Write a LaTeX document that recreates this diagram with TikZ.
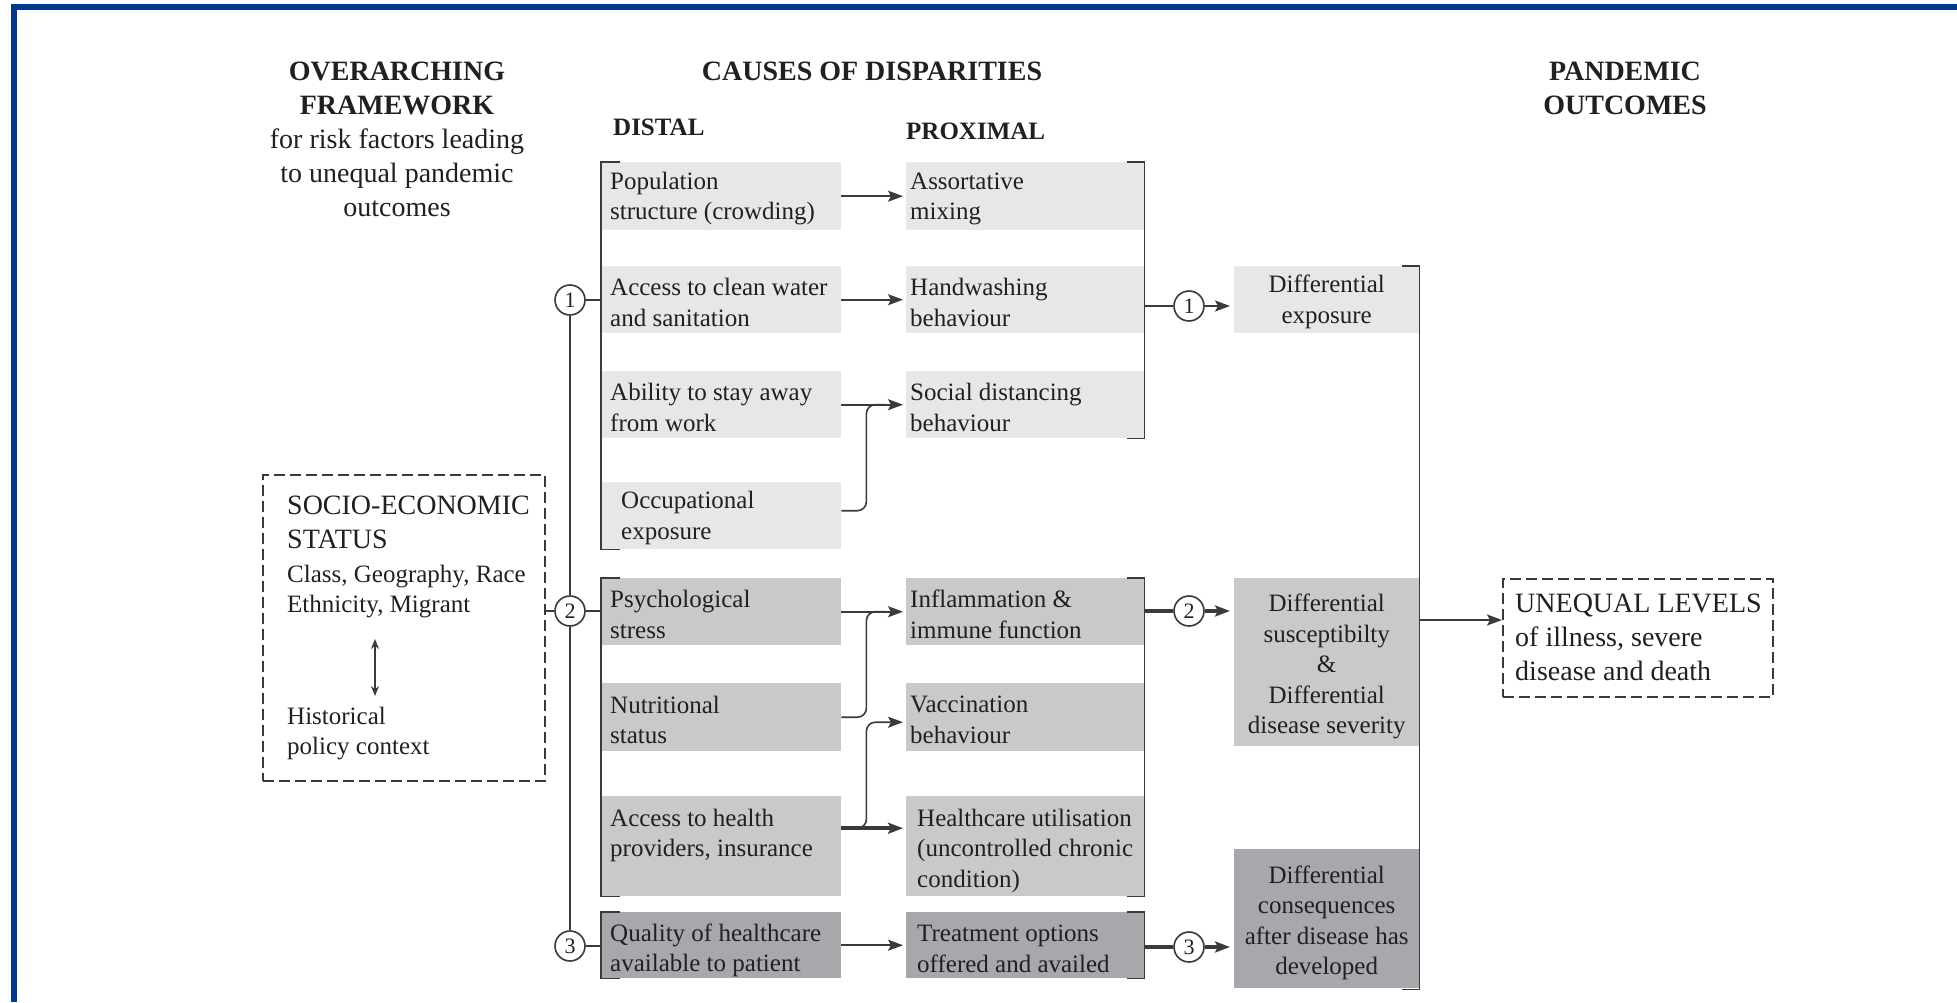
\documentclass[tikz,border=0pt]{standalone}
\usepackage{fontspec}
\setmainfont{Liberation Serif}
\usetikzlibrary{arrows.meta,calc}

\definecolor{frameblue}{HTML}{003893}
\definecolor{ink}{HTML}{231F20}
\definecolor{rulec}{HTML}{3A3A3A}
\definecolor{tierA}{HTML}{E6E7E8}
\definecolor{tierB}{HTML}{C8C9CB}
\definecolor{tierC}{HTML}{A6A8AB}

\newcommand{\bodysize}{\fontsize{25}{30.5}\selectfont}
\newcommand{\headsize}{\fontsize{28}{34}\selectfont}
\newcommand{\numsize}{\fontsize{22}{22}\selectfont}

\tikzset{
  ln/.style={draw=rulec, line width=1.6pt},
  mid/.style={draw=rulec, line width=2.8pt},
  heavy/.style={draw=rulec, line width=4pt},
  tip/.style={-{Stealth[length=15pt,width=11pt,inset=3pt]}},
  cell/.style={anchor=north west, inner sep=0pt, draw=none},
  txt/.style={font=\bodysize, text=ink, align=left, inner sep=0pt, anchor=west, yshift=-2.5pt},
  ctxt/.style={font=\bodysize, text=ink, align=center, inner sep=0pt},
  head/.style={font=\headsize\bfseries, text=ink, align=center, inner sep=0pt},
  colhead/.style={font=\bodysize\bfseries, text=ink, inner sep=0pt, anchor=west},
  num/.style={circle, draw=rulec, line width=1.6pt, fill=white, minimum size=30pt,
              inner sep=0pt, font=\numsize, text=ink},
  dashbox/.style={draw=rulec, line width=1.6pt, dash pattern=on 11pt off 5pt,
                  anchor=north west, inner sep=0pt},
}

\begin{document}
\begin{tikzpicture}[x=1pt,y=-1pt]
\useasboundingbox (0,0) rectangle (1957,1002);

% page frame
\fill[frameblue] (11,4) rectangle (1957,10);
\fill[frameblue] (11,4) rectangle (17,1002);

% column headings
\node[ctxt, font=\headsize] (fw) at (397,139)
  {\textbf{OVERARCHING}\\\textbf{FRAMEWORK}\\for risk factors leading\\to unequal pandemic\\outcomes};
\node[head] (causes) at (872,71) {CAUSES OF DISPARITIES};
\node[colhead] (distal) at (613,127) {DISTAL};
\node[colhead] (proximal) at (906,131) {PROXIMAL};
\node[head] (pand) at (1625,88) {PANDEMIC\\OUTCOMES};

% socio-economic status
\node[dashbox, minimum width=282pt, minimum height=306pt] (ses) at (262,474) {};
\node[txt, font=\headsize] (sest) at (287,520) {SOCIO-ECONOMIC\\STATUS};
\node[txt] (sesa) at (287,589) {Class, Geography, Race\\Ethnicity, Migrant};
\node[txt] (sesb) at (287,731) {Historical\\policy context};
\coordinate (ua) at (375,639);
\coordinate (ub) at (375,696);
\draw[ln, {Stealth[length=10pt,width=8pt]}-{Stealth[length=10pt,width=8pt]}] (ua) -- (ub);

% distal causes
\node[cell, fill=tierA, minimum width=240pt, minimum height=68pt] (d1) at (601,162) {};
\node[cell, fill=tierA, minimum width=240pt, minimum height=67pt] (d2) at (601,266) {};
\node[cell, fill=tierA, minimum width=240pt, minimum height=67pt] (d3) at (601,371) {};
\node[cell, fill=tierA, minimum width=240pt, minimum height=67pt] (d4) at (601,482) {};
\node[cell, fill=tierB, minimum width=240pt, minimum height=67pt] (d5) at (601,578) {};
\node[cell, fill=tierB, minimum width=240pt, minimum height=68pt] (d6) at (601,683) {};
\node[cell, fill=tierB, minimum width=240pt, minimum height=100pt] (d7) at (601,796) {};
\node[cell, fill=tierC, minimum width=240pt, minimum height=66pt] (d8) at (601,912) {};

\node[txt] (d1t) at ($(d1.west)+(9,0)$) {Population\\structure (crowding)};
\node[txt] (d2t) at ($(d2.west)+(9,0)$) {Access to clean water\\and sanitation};
\node[txt] (d3t) at ($(d3.west)+(9,0)$) {Ability to stay away\\from work};
\node[txt] (d4t) at ($(d4.west)+(20,0)$) {Occupational\\exposure};
\node[txt] (d5t) at ($(d5.west)+(9,0)$) {Psychological\\stress};
\node[txt] (d6t) at ($(d6.west)+(9,0)$) {Nutritional\\status};
\node[txt] (d7t) at ($(d7.west)+(9,-13)$) {Access to health\\providers, insurance};
\node[txt] (d8t) at ($(d8.west)+(9,2.5)$) {Quality of healthcare\\available to patient};

% proximal causes
\node[cell, fill=tierA, minimum width=238pt, minimum height=68pt] (p1) at (906,162) {};
\node[cell, fill=tierA, minimum width=238pt, minimum height=67pt] (p2) at (906,266) {};
\node[cell, fill=tierA, minimum width=238pt, minimum height=67pt] (p3) at (906,371) {};
\node[cell, fill=tierB, minimum width=238pt, minimum height=67pt] (p4) at (906,578) {};
\node[cell, fill=tierB, minimum width=238pt, minimum height=68pt] (p5) at (906,683) {};
\node[cell, fill=tierB, minimum width=238pt, minimum height=100pt] (p6) at (906,796) {};
\node[cell, fill=tierC, minimum width=238pt, minimum height=66pt] (p7) at (906,912) {};

\node[txt] (p1t) at ($(p1.west)+(4,0)$) {Assortative\\mixing};
\node[txt] (p2t) at ($(p2.west)+(4,0)$) {Handwashing\\behaviour};
\node[txt] (p3t) at ($(p3.west)+(4,0)$) {Social distancing\\behaviour};
\node[txt] (p4t) at ($(p4.west)+(4,0)$) {Inflammation \&\\immune function};
\node[txt] (p5t) at ($(p5.west)+(4,0)$) {Vaccination\\behaviour};
\node[txt] (p6t) at ($(p6.west)+(11,2)$) {Healthcare utilisation\\(uncontrolled chronic\\condition)};
\node[txt] (p7t) at ($(p7.west)+(11,1)$) {Treatment options\\offered and availed};

% differential outcomes
\node[cell, fill=tierA, minimum width=185pt, minimum height=67pt] (o1) at (1234,266) {};
\node[cell, fill=tierB, minimum width=185pt, minimum height=168pt] (o2) at (1234,578) {};
\node[cell, fill=tierC, minimum width=185pt, minimum height=139pt] (o3) at (1234,849) {};
\node[ctxt] (o1t) at ($(o1.center)+(0,2)$) {Differential\\exposure};
\node[ctxt] (o2t) at ($(o2.center)+(0,4.5)$) {Differential\\susceptibilty\\\&\\Differential\\disease severity};
\node[ctxt] (o3t) at ($(o3.center)+(0,4)$) {Differential\\consequences\\after disease has\\developed};

% pandemic outcome
\node[dashbox, minimum width=270pt, minimum height=118pt] (un) at (1502,578) {};
\node[txt, font=\headsize, yshift=2.5pt] (unt) at (1515,637) {UNEQUAL LEVELS\\of illness, severe\\disease and death};

% pathway markers
\node[num] (L1) at (570,300) {1};
\node[num] (L2) at (570,611) {2};
\node[num] (L3) at (570,946) {3};
\node[num] (R1) at (1189,306) {1};
\node[num] (R2) at (1189,611) {2};
\node[num] (R3) at (1189,947) {3};

% spine linking the three pathways
\draw[ln] (L1) -- (L2);
\draw[ln] (L2) -- (L3);
\draw[mid] (ses.east |- L2.west) -- (L2.west);
\draw[mid] (L1.east) -- (L1.east -| d2.west);
\draw[mid] (L2.east) -- (L2.east -| d5.west);
\draw[mid] (L3.east) -- (L3.east -| d8.west);

% brackets round the distal groups
\draw[ln] ([xshift=19pt]d1.north west) -- (d1.north west) -- (d4.south west) -- ([xshift=19pt]d4.south west);
\draw[ln] ([xshift=19pt]d5.north west) -- (d5.north west) -- (d7.south west) -- ([xshift=19pt]d7.south west);
\draw[ln] ([xshift=19pt]d8.north west) -- (d8.north west) -- (d8.south west) -- ([xshift=19pt]d8.south west);

% brackets round the proximal groups
\draw[ln] ([xshift=-17pt]p1.north east) -- (p1.north east) -- (p3.south east) -- ([xshift=-17pt]p3.south east);
\draw[ln] ([xshift=-17pt]p4.north east) -- (p4.north east) -- (p6.south east) -- ([xshift=-17pt]p6.south east);
\draw[ln] ([xshift=-17pt]p7.north east) -- (p7.north east) -- (p7.south east) -- ([xshift=-17pt]p7.south east);

% bracket round the differential outcomes
\draw[ln] ([xshift=-17pt]o1.north east) -- (o1.north east) -- ([yshift=-1pt]o3.south east) -- ([xshift=-17pt,yshift=-1pt]o3.south east);

% distal -> proximal
\draw[ln,tip] (d1.east) -- ([xshift=-3pt]p1.west);
\draw[ln,tip] (d2.east) -- ([xshift=-3pt]p2.west);
\draw[ln,tip] (d3.east) -- ([xshift=-3pt]p3.west);
\draw[ln, rounded corners=9pt] ($(d4.east)+(0,-5)$) -- ++(25,0) |- ([xshift=-20pt]p3.west);
\draw[ln,tip] (d5.east) -- ([xshift=-3pt]p4.west);
\draw[ln, rounded corners=9pt] (d6.east) -- ++(25,0) |- ([xshift=-20pt]p4.west);
\draw[heavy,tip] ($(d7.east)+(0,-18)$) -- ($(p6.west)+(-3,-18)$);
\draw[ln,tip, rounded corners=9pt] ($(d7.east)+(12,-18)$) -- ++(13,0) |- ($(p5.west)+(-3,5)$);
\draw[ln,tip] (d8.east) -- ([xshift=-3pt]p7.west);

% proximal -> differential outcomes
\draw[ln] (R1.west -| p2.east) -- (R1.west);
\draw[ln,tip] (R1.east) -- ([xshift=-4pt]R1.east -| o1.west);
\draw[heavy] (R2.west -| p4.east) -- (R2.west);
\draw[heavy,tip] (R2.east) -- ([xshift=-4pt]R2.east -| o2.west);
\draw[heavy] (R3.west -| p7.east) -- (R3.west);
\draw[heavy,tip] (R3.east) -- ([xshift=-4pt]R3.east -| o3.west);

% differential outcomes -> unequal levels
\coordinate (oj) at (1420,620);
\draw[ln,tip] (oj) -- (oj -| un.west);
\end{tikzpicture}
\end{document}
